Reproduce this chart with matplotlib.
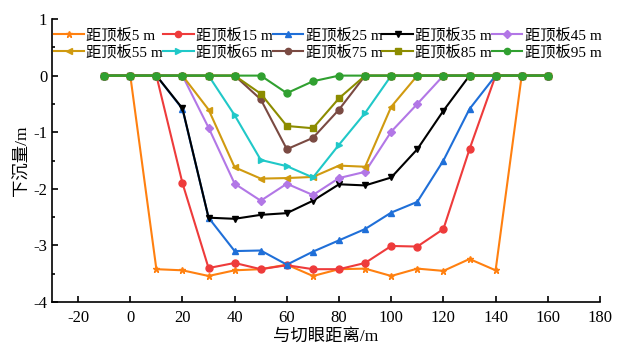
import numpy as np
import matplotlib
matplotlib.use('Agg')
import matplotlib.pyplot as plt
from matplotlib.ticker import MultipleLocator

plt.rcParams['font.family'] = ['Liberation Serif', 'Noto Sans CJK SC']
plt.rcParams['axes.unicode_minus'] = False

# distance from cut (m)
x = [-10, 0, 10, 20, 30, 40, 50, 60, 70, 80, 90, 100, 110, 120, 130, 140, 150, 160]

d5 = [0, 0, -3.42, -3.44, -3.54, -3.44, -3.42, -3.34, -3.54, -3.42, -3.41, -3.54, -3.41, -3.45, -3.24, -3.44, 0, 0]
d15 = [0, 0, 0, -1.90, -3.40, -3.31, -3.42, -3.35, -3.42, -3.42, -3.31, -3.01, -3.02, -2.71, -1.30, 0, 0, 0]
d25 = [0, 0, 0, -0.59, -2.51, -3.10, -3.09, -3.34, -3.11, -2.91, -2.71, -2.42, -2.23, -1.50, -0.59, 0, 0, 0]
d35 = [0, 0, 0, -0.58, -2.51, -2.53, -2.46, -2.43, -2.21, -1.92, -1.94, -1.80, -1.30, -0.62, 0, 0, 0, 0]
d45 = [0, 0, 0, 0, -0.92, -1.91, -2.21, -1.91, -2.11, -1.81, -1.70, -0.99, -0.50, 0, 0, 0, 0, 0]
d55 = [0, 0, 0, 0, -0.60, -1.62, -1.82, -1.81, -1.79, -1.59, -1.61, -0.55, 0, 0, 0, 0, 0, 0]
d65 = [0, 0, 0, 0, 0, -0.70, -1.49, -1.60, -1.80, -1.22, -0.66, 0, 0, 0, 0, 0, 0, 0]
d75 = [0, 0, 0, 0, 0, 0, -0.42, -1.30, -1.10, -0.60, 0, 0, 0, 0, 0, 0, 0, 0]
d85 = [0, 0, 0, 0, 0, 0, -0.32, -0.89, -0.93, -0.40, 0, 0, 0, 0, 0, 0, 0, 0]
d95 = [0, 0, 0, 0, 0, 0, 0, -0.31, -0.10, 0, 0, 0, 0, 0, 0, 0, 0, 0]

labels = ['距顶板5 m', '距顶板15 m', '距顶板25 m', '距顶板35 m', '距顶板45 m',
          '距顶板55 m', '距顶板65 m', '距顶板75 m', '距顶板85 m', '距顶板95 m']
series = [d5, d15, d25, d35, d45, d55, d65, d75, d85, d95]
colors = ['#ff8010', '#ee3b3b', '#1f6fd8', '#000000', '#b277e6',
          '#d09a10', '#20c8c8', '#7a4a42', '#8c8c00', '#30a030']
markers = ['*', 'o', '^', 'v', 'D', '<', '>', 'o', 's', 'o']
msizes = [5, 5, 5, 5, 4.5, 5, 5, 5, 4.5, 5]

fig = plt.figure(figsize=(6.22, 3.52), dpi=100)
ax = fig.add_axes([0.0836, 0.142, 0.881, 0.804])

lines = []
for ys, lab, c, m, ms in zip(series, labels, colors, markers, msizes):
    ln, = ax.plot(x, ys, color=c, marker=m, markersize=ms, lw=1.5, label=lab)
    lines.append(ln)

ax.set_xlim(-30, 180)
ax.set_ylim(-4, 1)
ax.set_xticks(np.arange(-20, 181, 20))
ax.yaxis.set_major_locator(MultipleLocator(1))
ax.yaxis.set_minor_locator(MultipleLocator(0.5))
ax.tick_params(which='both', direction='in', labelsize=12, width=1.2)
ax.tick_params(which='major', length=4)
ax.tick_params(which='minor', length=2.5)
ax.tick_params(axis='x', pad=6)

for s in ['top', 'right']:
    ax.spines[s].set_visible(False)
for s in ['left', 'bottom']:
    ax.spines[s].set_linewidth(1.2)

ax.set_xlabel('与切眼距离/m', fontsize=12.5, labelpad=2)
ax.set_ylabel('下沉量/m', fontsize=12.5, labelpad=2)

# row-major legend order
order = [0, 5, 1, 6, 2, 7, 3, 8, 4, 9]
ax.legend([lines[i] for i in order], [labels[i] for i in order],
          loc='upper left', bbox_to_anchor=(0.0, 0.975), ncol=5, frameon=False,
          fontsize=11, handlelength=2.0, handletextpad=0.15, columnspacing=0.0,
          labelspacing=0.2, borderaxespad=0.0, borderpad=0.1, markerscale=0.9)

fig.savefig('out.png', dpi=100)
